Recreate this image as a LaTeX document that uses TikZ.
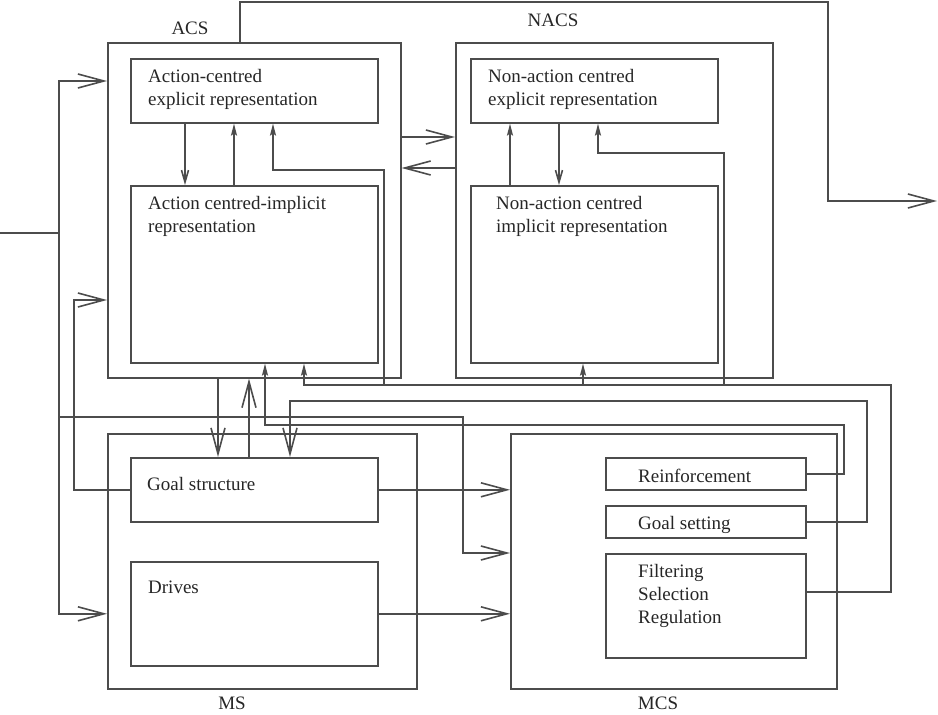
\documentclass[tikz,border=0pt]{standalone}
\usepackage{fontspec}
\setmainfont{Liberation Serif}
\usetikzlibrary{arrows.meta}
\newcommand{\tlines}[1]{\begin{tabular}[t]{@{}l@{}}#1\end{tabular}}
\begin{document}
\begin{tikzpicture}[x=1pt,y=-1pt,
  wire/.style={draw=black!70, line width=1.6pt, line join=miter},
  box/.style={wire, rectangle, anchor=north west, inner sep=0pt},
  bigarrow/.style={wire, -{Straight Barb[length=26pt,width=14pt]}},
  uparrow/.style={wire, -{Stealth[length=12pt,width=6pt,inset=2pt]}},
  downarrow/.style={wire, -{Straight Barb[length=12pt,width=7pt]}},
  txt/.style={anchor=base west, inner sep=0pt, text=black!85, font=\fontsize{19}{23}\selectfont},
  lbl/.style={anchor=base, inner sep=0pt, text=black!85, font=\fontsize{19}{23}\selectfont}]
\useasboundingbox (0,0) rectangle (938,715);

% ---- subsystems and their modules ----
\node[box, minimum width=293pt, minimum height=335pt] (acs)    at (107,42)  {};
\node[box, minimum width=247pt, minimum height=64pt]  (acsE)   at (130,58)  {};
\node[box, minimum width=247pt, minimum height=177pt] (acsI)   at (130,185) {};
\node[box, minimum width=317pt, minimum height=335pt] (nacs)   at (455,42)  {};
\node[box, minimum width=247pt, minimum height=64pt]  (nacsE)  at (470,58)  {};
\node[box, minimum width=247pt, minimum height=177pt] (nacsI)  at (470,185) {};
\node[box, minimum width=309pt, minimum height=255pt] (ms)     at (107,433) {};
\node[box, minimum width=247pt, minimum height=64pt]  (goal)   at (130,457) {};
\node[box, minimum width=247pt, minimum height=104pt] (drives) at (130,561) {};
\node[box, minimum width=326pt, minimum height=255pt] (mcs)    at (510,433) {};
\node[box, minimum width=200pt, minimum height=32pt]  (reinf)  at (605,457) {};
\node[box, minimum width=200pt, minimum height=32pt]  (gset)   at (605,505) {};
\node[box, minimum width=200pt, minimum height=104pt] (filt)   at (605,553) {};

% ---- texts ----
\node[lbl] (acsL)  at (190,34)  {ACS};
\node[lbl] (nacsL) at (553,26)  {NACS};
\node[lbl] (msL)   at (232,709) {MS};
\node[lbl] (mcsL)  at (658,709) {MCS};
\node[txt] (acsEt)  at (148,82)  {\tlines{Action-centred\\explicit representation}};
\node[txt] (acsIt)  at (148,209) {\tlines{Action centred-implicit\\representation}};
\node[txt] (nacsEt) at (488,82)  {\tlines{Non-action centred\\explicit representation}};
\node[txt] (nacsIt) at (496,209) {\tlines{Non-action centred\\implicit representation}};
\node[txt] (goalt)  at (147,490) {Goal structure};
\node[txt] (drivt)  at (148,593) {Drives};
\node[txt] (reinft) at (638,482) {Reinforcement};
\node[txt] (gsett)  at (638,529) {Goal setting};
\node[txt] (filtt)  at (638,577) {\tlines{Filtering\\Selection\\Regulation}};

% ---- input bus on the left ----
\coordinate (in)  at (0,233);
\coordinate (bus) at (59,233);
\draw[wire] (in) -- (bus);
\draw[bigarrow] (bus) |- (acs.west |- 0,81);
\draw[bigarrow] (bus) |- (ms.west |- drives.east);
\draw[bigarrow] (bus |- 0,417) -| (463,553) -- (mcs.west |- 0,553);

% ---- output of ACS ----
\coordinate (out) at (937,201);
\draw[bigarrow] (acs.north -| 240,0) |- (828,2) |- (out);

% ---- ACS <-> NACS ----
\draw[bigarrow] (acs.east |- 0,137) -- (nacs.west |- 0,137);
\draw[bigarrow] (nacs.west |- 0,168) -- (acs.east |- 0,168);

% ---- inside ACS and NACS ----
\draw[downarrow] (acsE.south -| 185,0) -- (acsI.north -| 185,0);
\draw[uparrow]   (acsI.north -| 234,0) -- (acsE.south -| 234,0);
\draw[uparrow]   (nacsI.north -| 510,0) -- (nacsE.south -| 510,0);
\draw[downarrow] (nacsE.south -| 559,0) -- (nacsI.north -| 559,0);

% ---- goal structure feedback into ACS ----
\draw[bigarrow] (goal.west) -| (74,300) -- (acs.west |- 0,300);

% ---- ACS <-> goal structure ----
\draw[bigarrow] (acs.south -| 218,0) -- (goal.north -| 218,0);
\draw[bigarrow] (goal.north -| 249,0) -- (acs.south -| 249,0);

% ---- MS -> MCS ----
\draw[bigarrow] (goal.east) -- (mcs.west |- goal.east);
\draw[bigarrow] (drives.east) -- (mcs.west |- drives.east);

% ---- MCS outputs ----
\draw[uparrow]  (reinf.east) -| (844,425) -| (acsI.south -| 265,0);
\draw[bigarrow] (gset.east) -| (867,401) -| (goal.north -| 290,0);
\draw[uparrow]  (filt.east |- 0,592) -| (891,385) -| (acsI.south -| 304,0);
\draw[uparrow]  (384,385) |- (273,170) -- (acsE.south -| 273,0);
\draw[uparrow]  (583,385) -- (nacsI.south -| 583,0);
\draw[uparrow]  (724,385) |- (598,153) -- (nacsE.south -| 598,0);
\end{tikzpicture}
\end{document}
